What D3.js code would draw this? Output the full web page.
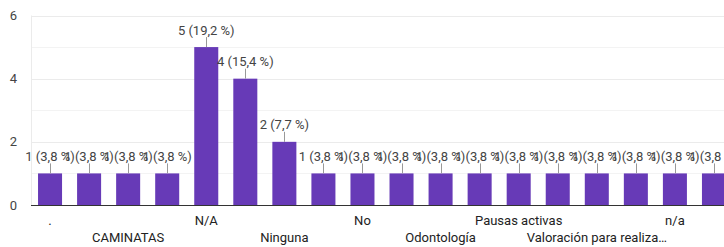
<!DOCTYPE html>
<html>
<head>
<meta charset="utf-8">
<script src="https://cdn.jsdelivr.net/npm/d3@7"></script>
<style>
  body { margin: 0; background: #fff; }
  svg { display: block; font-family: Roboto, Arial, sans-serif; }
</style>
</head>
<body>
<svg id="chart"></svg>
<script>
let categories = [".", "Ayuda", "CAMINATAS", "Capacitaciones", "N/A", "NA", "Ninguna", "Ninguno",
  "No", "Nutrición", "Odontología", "Optometría", "Pausas activas", "Psicología",
  "Valoración para realizar ejercicio", "Yoga", "n/a", "ninguna"];
let counts = [1, 1, 1, 1, 5, 4, 2, 1, 1, 1, 1, 1, 1, 1, 1, 1, 1, 1];
let pctLabels = ["3,8", "3,8", "3,8", "3,8", "19,2", "15,4", "7,7", "3,8", "3,8",
  "3,8", "3,8", "3,8", "3,8", "3,8", "3,8", "3,8", "3,8", "3,8"];
let yTicks = [0, 2, 4, 6];
let yMinor = [1, 3, 5];

let width = 724, height = 247;
let margin = {top: 15.5, right: -9, bottom: 42, left: 31};

let svg = d3.select("#chart")
    .attr("width", width)
    .attr("height", height);

let x = d3.scaleBand()
    .domain(categories)
    .range([margin.left, width - margin.right])
    .paddingInner(0.385)
    .paddingOuter(0.18);

let y = d3.scaleLinear()
    .domain([0, 6])
    .range([height - margin.bottom, margin.top]);

// gridlines
svg.append("g")
  .selectAll("line")
  .data(yMinor)
  .enter().append("line")
    .attr("x1", margin.left).attr("x2", width)
    .attr("y1", d => Math.round(y(d)) + 0.5).attr("y2", d => Math.round(y(d)) + 0.5)
    .attr("stroke", "#f3f3f3");

svg.append("g")
  .selectAll("line")
  .data(yTicks)
  .enter().append("line")
    .attr("x1", margin.left).attr("x2", width)
    .attr("y1", d => Math.round(y(d)) + 0.5).attr("y2", d => Math.round(y(d)) + 0.5)
    .attr("stroke", "#ebebeb");

// faint left edge of the plot
svg.append("line")
    .attr("x1", margin.left + 0.5).attr("x2", margin.left + 0.5)
    .attr("y1", y(6)).attr("y2", y(0))
    .attr("stroke", "#ebebeb");

// y tick labels
svg.append("g")
  .selectAll("text")
  .data(yTicks)
  .enter().append("text")
    .attr("x", 17)
    .attr("y", d => y(d))
    .attr("dy", "0.35em")
    .attr("text-anchor", "end")
    .attr("font-size", 13)
    .attr("fill", "#444")
    .text(d => d);

// bars
svg.append("g")
  .selectAll("rect")
  .data(counts)
  .enter().append("rect")
    .attr("x", (d, i) => x(categories[i]))
    .attr("y", d => y(d))
    .attr("width", x.bandwidth())
    .attr("height", d => y(0) - y(d))
    .attr("fill", "#673ab7");

// baseline
svg.append("line")
    .attr("x1", margin.left).attr("x2", width)
    .attr("y1", Math.round(y(0)) + 0.5).attr("y2", Math.round(y(0)) + 0.5)
    .attr("stroke", "#333");

// leader lines + value labels
let ann = svg.append("g");
counts.forEach(function(d, i) {
  let cx = x(categories[i]) + x.bandwidth() / 2;
  ann.append("line")
      .attr("x1", Math.round(cx) + 0.5).attr("x2", Math.round(cx) + 0.5)
      .attr("y1", y(d)).attr("y2", y(d) - 10)
      .attr("stroke", "#999");
  ann.append("text")
      .attr("x", cx)
      .attr("y", y(d) - 17)
      .attr("dy", "0.35em")
      .attr("text-anchor", "middle")
      .attr("font-size", 13)
      .attr("fill", "#444")
      .text(d + " (" + pctLabels[i] + " %)");
});

// category labels: every other one, staggered on two rows
function shortLabel(s) {
  return s.length > 24 ? s.slice(0, 23) + "…" : s;
}
svg.append("g")
  .selectAll("text")
  .data(categories.filter((c, i) => i % 2 === 0))
  .enter().append("text")
    .attr("x", d => x(d) + x.bandwidth() / 2)
    .attr("y", (d, k) => k % 2 === 0 ? 220 : 237)
    .attr("dy", "0.35em")
    .attr("text-anchor", "middle")
    .attr("font-size", 13)
    .attr("fill", "#222")
    .text(d => shortLabel(d));
</script>
</body>
</html>
